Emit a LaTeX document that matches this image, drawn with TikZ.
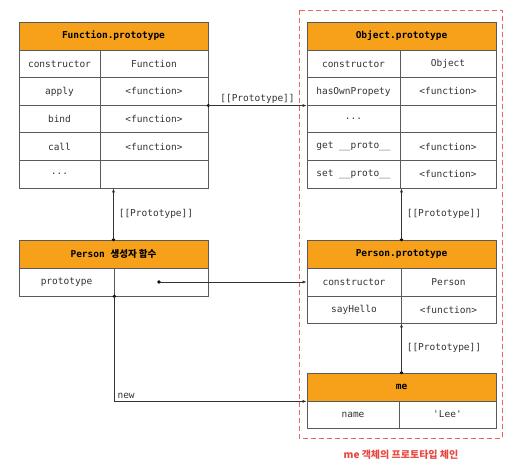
\documentclass[tikz,border=0pt]{standalone}
\usepackage{fontspec}
\setmonofont{DejaVu Sans Mono}
\newfontfamily\kr{Noto Sans CJK KR}
\usetikzlibrary{arrows.meta}
\definecolor{hdr}{HTML}{F7A11A}
\definecolor{bd}{HTML}{5A5A5A}
\definecolor{txt}{HTML}{333333}
\definecolor{chain}{HTML}{E8473F}
\newcommand\mkcell[7][cell]{\node[#1, minimum width={#5-#3}, minimum height={#6-#4}] (#2) at ({(#3+#5)/2},{(#4+#6)/2}) {#7};}
\tikzset{
  cell/.style={draw=bd, line width=0.7pt, inner sep=0pt, font=\ttfamily\fontsize{9.5}{11}\selectfont, text=txt},
  head/.style={cell, fill=hdr, font=\ttfamily\bfseries\fontsize{9.5}{11}\selectfont, text=black},
  link/.style={draw=black!80, line width=0.6pt, -{Latex[length=4pt,width=3pt]}},
  dotnode/.style={circle, fill=black, inner sep=0pt, minimum size=3.6pt},
  lbl/.style={font=\ttfamily\fontsize{9.5}{11}\selectfont, text=txt, inner sep=1pt}
}
\begin{document}
\begin{tikzpicture}[x=1pt,y=-1pt]
\useasboundingbox (0,0) rectangle (513,471);
% dashed chain box
\draw[chain!85, dash pattern=on 5pt off 3pt, line width=1pt] (299,10) rectangle (502,438);
% Function.prototype
\mkcell[head]{fh}{19}{22}{208}{50}{Function.prototype}
\mkcell{fck}{19}{50}{100}{77.6}{constructor}
\mkcell{fcv}{100}{50}{208}{77.6}{Function}
\mkcell{fak}{19}{77.6}{100}{105.2}{apply}
\mkcell{fav}{100}{77.6}{208}{105.2}{<function>}
\mkcell{fbk}{19}{105.2}{100}{132.8}{bind}
\mkcell{fbv}{100}{105.2}{208}{132.8}{<function>}
\mkcell{fck2}{19}{132.8}{100}{160.4}{call}
\mkcell{fcv2}{100}{132.8}{208}{160.4}{<function>}
\mkcell{fdk}{19}{160.4}{100}{188}{...}
\mkcell{fdv}{100}{160.4}{208}{188}{}
% Object.prototype
\mkcell[head]{oh}{307}{22}{496}{50}{Object.prototype}
\mkcell{ock}{307}{50}{400}{77.6}{constructor}
\mkcell{ocv}{400}{50}{496}{77.6}{Object}
\mkcell{ohk}{307}{77.6}{400}{105.2}{hasOwnPropety}
\mkcell{ohv}{400}{77.6}{496}{105.2}{<function>}
\mkcell{odk}{307}{105.2}{400}{132.8}{...}
\mkcell{odv}{400}{105.2}{496}{132.8}{}
\mkcell{ogk}{307}{132.8}{400}{160.4}{get \_\_proto\_\_}
\mkcell{ogv}{400}{132.8}{496}{160.4}{<function>}
\mkcell{osk}{307}{160.4}{400}{188}{set \_\_proto\_\_}
\mkcell{osv}{400}{160.4}{496}{188}{<function>}
% Person constructor
\mkcell[head]{pch}{19}{240}{208}{268}{Person {\kr\bfseries 생성자 함수}}
\mkcell{pck}{19}{268}{114}{296}{prototype}
\mkcell{pcv}{114}{268}{208}{296}{}
% Person.prototype
\mkcell[head]{pph}{307}{240}{496}{268}{Person.prototype}
\mkcell{ppck}{307}{268}{401}{296}{constructor}
\mkcell{ppcv}{401}{268}{496}{296}{Person}
\mkcell{ppsk}{307}{296}{401}{323}{sayHello}
\mkcell{ppsv}{401}{296}{496}{323}{<function>}
% me
\mkcell[head]{meh}{307}{373}{496}{401}{me}
\mkcell{menk}{307}{401}{399}{428}{name}
\mkcell{menv}{399}{401}{496}{428}{'Lee'}
% dots
\node[dotnode] (d1) at (fav.south east) {};
\node[dotnode] (d2) at (pch.north) {};
\node[dotnode] (d3) at ([xshift=-2pt]pcv.center) {};
\node[dotnode] (d4) at (pck.south east) {};
\node[dotnode] (d5) at (pph.north) {};
\node[dotnode] (d6) at (meh.north) {};
\coordinate (newc) at (d4 |- meh.south);
% connectors
\draw[link] (d1.center) -- node[lbl, above, yshift=1pt] (l1) {[[Prototype]]} (ohk.south west);
\draw[link] (d2.center) -- node[lbl, right, xshift=4pt] (l2) {[[Prototype]]} (d2 |- fdk.south);
\draw[link] (d3.center) -- (ppck.west);
\draw[link] (d4.center) -- (newc) -- (meh.south west);
\node[lbl, anchor=south west, xshift=2pt, yshift=2pt] (lnew) at (newc) {new};
\draw[link] (d5.center) -- node[lbl, right, xshift=4pt] (l3) {[[Prototype]]} (d5 |- osk.south);
\draw[link] (d6.center) -- node[lbl, right, xshift=4pt] (l4) {[[Prototype]]} (d6 |- ppsk.south);
% caption
\node[font=\kr\bfseries\fontsize{10}{12}\selectfont, text=chain] (cap) at (401,455) {me 객체의 프로토타입 체인};
\end{tikzpicture}
\end{document}
